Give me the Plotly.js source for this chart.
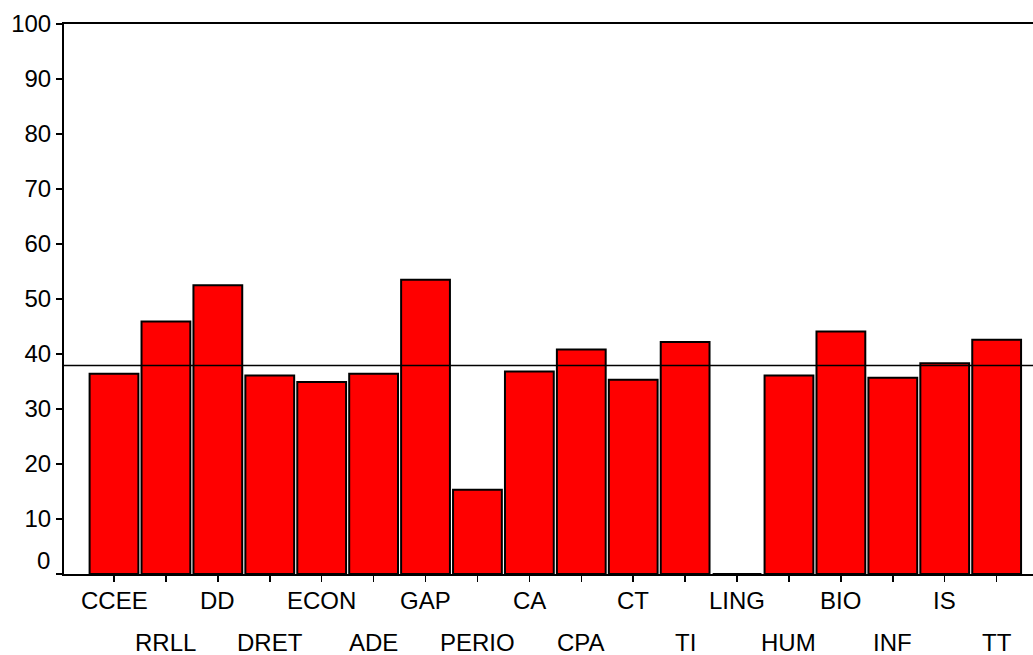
<!DOCTYPE html>
<html>
<head>
<meta charset="utf-8">
<script src="https://cdn.plot.ly/plotly-3.0.1.min.js"></script>
<style>
  html, body { margin: 0; padding: 0; background: #ffffff; }
  #chart { width: 1033px; height: 655px; }
</style>
</head>
<body>
<div id="chart"></div>
<script>
const categories = ["CCEE", "RRLL", "DD", "DRET", "ECON", "ADE", "GAP", "PERIO", "CA",
                    "CPA", "CT", "TI", "LING", "HUM", "BIO", "INF", "IS", "TT"];
const values = [36.4, 45.9, 52.5, 36.1, 34.9, 36.4, 53.5, 15.3, 36.8,
                40.8, 35.3, 42.2, 0, 36.1, 44.1, 35.7, 38.3, 42.6];
const referenceLine = 37.9;
const yTickValues = [0, 10, 20, 30, 40, 50, 60, 70, 80, 90, 100];
const yTickLabels = ["", "10", "20", "30", "40", "50", "60", "70", "80", "90", "100"];
const zeroLabel = "0";

const FONT = "Liberation Sans, Arial, sans-serif";

const trace = {
  type: "bar",
  x: categories,
  y: values,
  marker: { color: "#ff0000", line: { color: "#000000", width: 2 } },
  hoverinfo: "x+y"
};

// staggered category labels: even indices on row 1, odd on row 2
const annotations = categories.map((c, i) => ({
  xref: "x", yref: "paper",
  x: c, y: 0,
  text: c,
  showarrow: false,
  xanchor: "center", yanchor: "middle",
  yshift: (i % 2 === 0) ? -26 : -68,
  font: { family: FONT, size: 24, color: "#000000" }
}));
annotations.push({
  xref: "paper", yref: "y",
  x: 0, y: 0,
  text: zeroLabel,
  showarrow: false,
  xanchor: "right", yanchor: "middle",
  xshift: -12, yshift: 14,
  font: { family: FONT, size: 24, color: "#000000" }
});

const layout = {
  width: 1033, height: 655,
  margin: { l: 64, r: 0, t: 24, b: 81, pad: 0 },
  paper_bgcolor: "#ffffff",
  plot_bgcolor: "#ffffff",
  showlegend: false,
  bargap: 0.06,
  font: { family: FONT, size: 24, color: "#000000" },
  xaxis: {
    type: "category",
    range: [-0.963, 17.70],
    tickmode: "array",
    tickvals: categories,
    showticklabels: false,
    ticks: "outside", ticklen: 6, tickwidth: 1.5, tickcolor: "#000000",
    showline: true, linecolor: "#000000", linewidth: 2, mirror: true,
    showgrid: false, zeroline: false, fixedrange: true
  },
  yaxis: {
    range: [0, 100],
    tickmode: "array",
    tickvals: yTickValues,
    ticktext: yTickLabels,
    ticks: "outside", ticklen: 6, tickwidth: 1.5, tickcolor: "#000000",
    tickfont: { family: FONT, size: 24, color: "#000000" },
    showline: true, linecolor: "#000000", linewidth: 2,
    showgrid: false, zeroline: false, fixedrange: true
  },
  shapes: [{
    type: "line", xref: "paper", yref: "y",
    x0: 0, x1: 1, y0: referenceLine, y1: referenceLine,
    line: { color: "#000000", width: 1.6 }
  }],
  annotations: annotations
};

Plotly.newPlot("chart", [trace], layout, { displayModeBar: false, staticPlot: true });
</script>
</body>
</html>
